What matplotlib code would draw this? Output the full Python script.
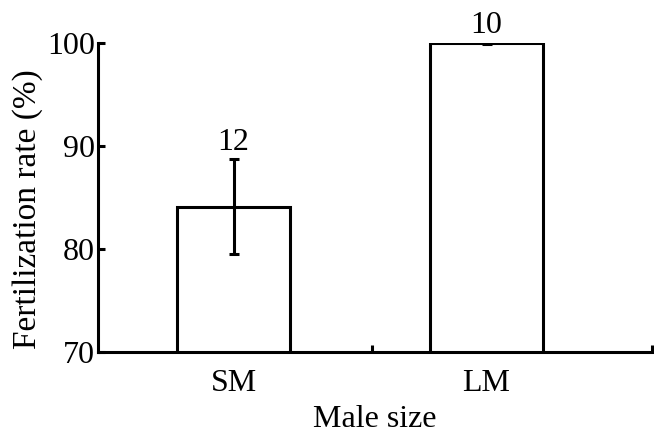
import matplotlib
matplotlib.use("Agg")
import matplotlib.pyplot as plt

categories = ["SM", "LM"]
values = [84.1, 100.0]
errors = [4.6, 0.1]
sample_sizes = ["12", "10"]
yticks = [70, 80, 90, 100]

plt.rcParams['font.family'] = ['Liberation Serif', 'DejaVu Serif']

fig = plt.figure(figsize=(6.54, 4.33), dpi=100)
W, H = 654, 433
left, right, bottom, top = 98, 652, 352, 43
ax = fig.add_axes([left / W, 1 - bottom / H, (right - left) / W, (bottom - top) / H])

pos = [0, 1]
ax.bar(pos, values, width=0.447, color="white", edgecolor="black", linewidth=2.2, zorder=2)
ax.errorbar(pos, values, yerr=errors, fmt="none", ecolor="black", elinewidth=2.2,
            capsize=3.5, capthick=2.2, zorder=3)
for p, v, e, n in zip(pos, values, errors, sample_sizes):
    ax.text(p, v + e + 0.2, n, ha="center", va="bottom", fontsize=23, clip_on=False)

ax.set_xlim(-0.536, 1.654)
ax.set_ylim(70, 100)
ax.set_yticks(yticks)
ax.tick_params(axis="y", direction="in", length=5, width=2.2, labelsize=23, pad=2)
ax.set_xticks(pos)
ax.set_xticklabels(categories)
ax.tick_params(axis="x", which="major", length=0, labelsize=23, pad=12)
ax.set_xticks([0.547, 1.654], minor=True)
ax.tick_params(axis="x", which="minor", direction="in", length=5, width=2.2)

for s in ["top", "right"]:
    ax.spines[s].set_visible(False)
for s in ["left", "bottom"]:
    ax.spines[s].set_linewidth(2.2)

ax.set_xlabel("Male size", fontsize=23, labelpad=5)
ax.set_ylabel("Fertilization rate (%)", fontsize=24)
ax.yaxis.set_label_coords(-0.099, 0.463)

fig.savefig("out.png", dpi=100)
